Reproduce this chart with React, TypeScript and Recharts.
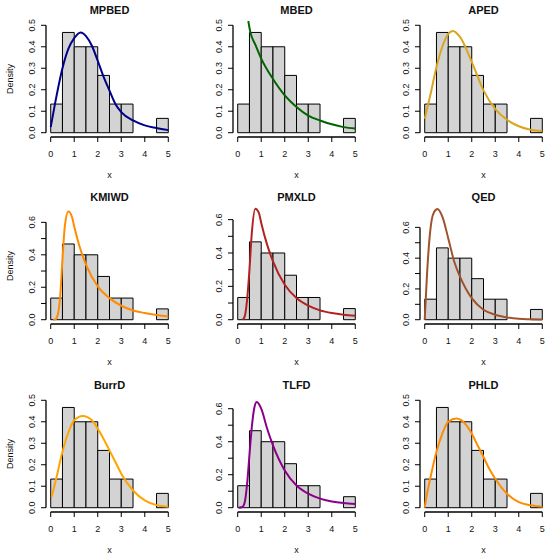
import { ComposedChart, Line, XAxis, YAxis, ReferenceArea, ReferenceLine } from "recharts";

// histogram shared by all nine panels
const binEdges = [0, 0.5, 1, 1.5, 2, 2.5, 3, 3.5, 4, 4.5, 5];
const binDensity = [0.1333, 0.4667, 0.4, 0.4, 0.2667, 0.1333, 0.1333, 0, 0, 0.0667];

const panelTitles = ["MPBED", "MBED", "APED", "KMIWD", "PMXLD", "QED", "BurrD", "TLFD", "PHLD"];
const curveColors = [
  "#00008b", "#006400", "#daa520",
  "#ff8c00", "#b22222", "#a0522d",
  "#ffa500", "#8b008b", "#ff8c00",
];
// upper ylim of each panel
const yLimits = [0.5, 0.5, 0.5, 0.662, 0.644, 0.698, 0.5, 0.651, 0.5];

const xTicks = [0, 1, 2, 3, 4, 5];
const yTicksLow = [0, 0.1, 0.2, 0.3, 0.4, 0.5];
const yTicksHigh = [0, 0.1, 0.2, 0.3, 0.4, 0.5, 0.6];

// fitted densities as [x, density]
const mpbedCurve = [
  [0.0, 0.026], [0.18, 0.133], [0.5, 0.3], [0.75, 0.39], [1.0, 0.44], [1.27, 0.467],
  [1.5, 0.45], [1.75, 0.405], [2.0, 0.335], [2.25, 0.26], [2.5, 0.196], [2.75, 0.134],
  [3.0, 0.096], [3.5, 0.057], [4.0, 0.034], [4.5, 0.022], [5.0, 0.012],
];
const mbedCurve = [
  [0.45, 0.52], [0.54, 0.467], [0.75, 0.41], [1.0, 0.345], [1.5, 0.25], [2.0, 0.174],
  [2.5, 0.12], [3.0, 0.08], [3.5, 0.057], [4.0, 0.039], [4.5, 0.026], [5.0, 0.019],
];
const apedCurve = [
  [0.0, 0.065], [0.25, 0.18], [0.5, 0.306], [0.75, 0.4], [1.0, 0.46], [1.2, 0.474],
  [1.5, 0.446], [2.0, 0.33], [2.5, 0.197], [3.0, 0.11], [3.5, 0.06], [4.0, 0.03],
  [4.5, 0.014], [5.0, 0.008],
];
const kmiwdCurve = [
  [0.11, 0.0], [0.2, 0.002], [0.3, 0.03], [0.4, 0.14], [0.5, 0.37], [0.6, 0.575],
  [0.75, 0.667], [0.9, 0.636], [1.0, 0.575], [1.25, 0.44], [1.5, 0.34], [2.0, 0.205],
  [2.5, 0.133], [3.0, 0.086], [3.5, 0.057], [4.0, 0.041], [4.5, 0.029], [5.0, 0.02],
];
const pmxldCurve = [
  [0.21, 0.0], [0.3, 0.02], [0.4, 0.12], [0.5, 0.3], [0.6, 0.52], [0.75, 0.666],
  [0.9, 0.64], [1.0, 0.58], [1.25, 0.45], [1.5, 0.35], [2.0, 0.21], [2.5, 0.13],
  [3.0, 0.084], [3.5, 0.056], [4.0, 0.04], [4.5, 0.03], [5.0, 0.024],
];
const qedCurve = [
  [0.0, 0.0], [0.1, 0.3], [0.2, 0.52], [0.3, 0.65], [0.4, 0.7], [0.54, 0.72],
  [0.75, 0.67], [1.0, 0.53], [1.25, 0.38], [1.5, 0.28], [2.0, 0.14], [2.5, 0.065],
  [3.0, 0.032], [3.5, 0.015], [4.0, 0.006], [4.5, 0.003], [5.0, 0.001],
];
const burrCurve = [
  [0.04, 0.05], [0.25, 0.143], [0.5, 0.26], [0.75, 0.35], [1.0, 0.407], [1.36, 0.427],
  [1.75, 0.407], [2.0, 0.368], [2.25, 0.32], [2.5, 0.267], [2.75, 0.213], [3.0, 0.158],
  [3.5, 0.08], [4.0, 0.034], [4.5, 0.012], [5.0, 0.005],
];
const tlfdCurve = [
  [0.04, 0.0], [0.2, 0.004], [0.3, 0.034], [0.4, 0.145], [0.5, 0.32], [0.6, 0.49],
  [0.7, 0.6], [0.81, 0.64], [1.0, 0.6], [1.25, 0.48], [1.5, 0.378], [2.0, 0.226],
  [2.5, 0.135], [3.0, 0.085], [3.5, 0.055], [4.0, 0.038], [4.5, 0.028], [5.0, 0.022],
];
const phldCurve = [
  [0.0, 0.0], [0.1, 0.065], [0.25, 0.143], [0.5, 0.26], [0.75, 0.345], [1.0, 0.4],
  [1.35, 0.415], [1.75, 0.387], [2.0, 0.345], [2.25, 0.29], [2.5, 0.236], [2.75, 0.18],
  [3.0, 0.135], [3.5, 0.065], [4.0, 0.026], [4.5, 0.011], [5.0, 0.005],
];

const curves = [
  mpbedCurve, mbedCurve, apedCurve,
  kmiwdCurve, pmxldCurve, qedCurve,
  burrCurve, tlfdCurve, phldCurve,
];

const FONT = "'Liberation Sans', Arial, Helvetica, sans-serif";
const INK = "#111";

const CHART_W = 187;
const CHART_H = 188;
const PLOT_LEFT = 46;
const PLOT_W = 127;
const PLOT_TOP = 21;
const PLOT_H = 116;
const X_AXIS_H = 30;
const X_MIN = -0.2;
const X_MAX = 5.2;
const colLeft = [0, 187, 374];
const rowTop = [0, 187, 375];

function XTick({ x, y, payload }: any) {
  return (
    <text x={x} y={y + 15} textAnchor="middle" fontSize={9} fontFamily={FONT} fill={INK}>
      {payload.value}
    </text>
  );
}

function YTick({ x, y, payload, showEvery }: any) {
  const v = payload.value as number;
  if (Math.round(v * 10) % showEvery !== 0) return <g />;
  const bx = x - 6;
  return (
    <text
      x={bx}
      y={y}
      transform={`rotate(-90, ${bx}, ${y})`}
      textAnchor="middle"
      fontSize={9}
      fontFamily={FONT}
      fill={INK}
    >
      {v.toFixed(1)}
    </text>
  );
}

function Panel({ index }: { index: number }) {
  const col = index % 3;
  const row = Math.floor(index / 3);
  const yMax = yLimits[index];
  const yTicks = yMax > 0.55 ? yTicksHigh : yTicksLow;
  const showEvery = yMax > 0.55 ? 2 : 1;
  const yLow = -0.04 * yMax;
  const yHigh = 1.04 * yMax;
  const data = curves[index].map(([x, y]) => ({ x, y }));
  const bins = binDensity
    .map((h, i) => ({ x1: binEdges[i], x2: binEdges[i + 1], h }))
    .filter((b) => b.h > 0);
  const bottom = PLOT_TOP + PLOT_H;
  const cx = PLOT_LEFT + PLOT_W / 2;

  return (
    <div
      style={{
        position: "absolute",
        left: colLeft[col],
        top: rowTop[row],
        width: CHART_W,
        height: CHART_H,
      }}
    >
      <ComposedChart
        width={CHART_W}
        height={CHART_H}
        data={data}
        margin={{
          top: PLOT_TOP,
          right: CHART_W - PLOT_LEFT - PLOT_W,
          bottom: CHART_H - PLOT_TOP - PLOT_H - X_AXIS_H,
          left: 0,
        }}
      >
        <XAxis
          type="number"
          dataKey="x"
          domain={[X_MIN, X_MAX]}
          ticks={xTicks}
          interval={0}
          axisLine={false}
          tickLine={{ stroke: "#000" }}
          tickSize={5}
          tickMargin={0}
          height={X_AXIS_H}
          tick={<XTick />}
        />
        <YAxis
          type="number"
          domain={[yLow, yHigh]}
          ticks={yTicks}
          interval={0}
          axisLine={false}
          tickLine={{ stroke: "#000" }}
          tickSize={5}
          tickMargin={0}
          width={PLOT_LEFT}
          tick={<YTick showEvery={showEvery} />}
        />
        {bins.map((b) => (
          <ReferenceArea
            key={b.x1}
            x1={b.x1}
            x2={b.x2}
            y1={0}
            y2={b.h}
            fill="#d3d3d3"
            fillOpacity={1}
            stroke="#000"
            strokeWidth={1}
            strokeOpacity={1}
          />
        ))}
        {/* R draws its axis lines only between the first and the last tick */}
        <ReferenceLine
          segment={[
            { x: xTicks[0], y: yLow },
            { x: xTicks[xTicks.length - 1], y: yLow },
          ]}
          stroke="#000"
          strokeWidth={1.3}
          ifOverflow="visible"
        />
        <ReferenceLine
          segment={[
            { x: X_MIN, y: yTicks[0] },
            { x: X_MIN, y: yTicks[yTicks.length - 1] },
          ]}
          stroke="#000"
          strokeWidth={1.3}
          ifOverflow="visible"
        />
        <Line
          type="monotone"
          dataKey="y"
          stroke={curveColors[index]}
          strokeWidth={2}
          dot={false}
          activeDot={false}
          isAnimationActive={false}
        />
      </ComposedChart>
      <svg
        width={CHART_W}
        height={CHART_H}
        style={{ position: "absolute", left: 0, top: 0, pointerEvents: "none" }}
      >
        <text x={cx} y={14} textAnchor="middle" fontSize={11} fontWeight="bold" fontFamily={FONT} fill={INK}>
          {panelTitles[index]}
        </text>
        <text x={cx} y={bottom + 41} textAnchor="middle" fontSize={9} fontFamily={FONT} fill={INK}>
          x
        </text>
        {col === 0 && (
          <text
            x={12.5}
            y={PLOT_TOP + PLOT_H / 2}
            transform={`rotate(-90, 12.5, ${PLOT_TOP + PLOT_H / 2})`}
            textAnchor="middle"
            fontSize={9}
            fontFamily={FONT}
            fill={INK}
          >
            Density
          </text>
        )}
      </svg>
    </div>
  );
}

export default function App() {
  return (
    <div
      style={{
        position: "absolute",
        left: 0,
        top: 0,
        width: 550,
        height: 557,
        overflow: "hidden",
        background: "#fff",
      }}
    >
      {panelTitles.map((t, i) => (
        <Panel key={t} index={i} />
      ))}
    </div>
  );
}
